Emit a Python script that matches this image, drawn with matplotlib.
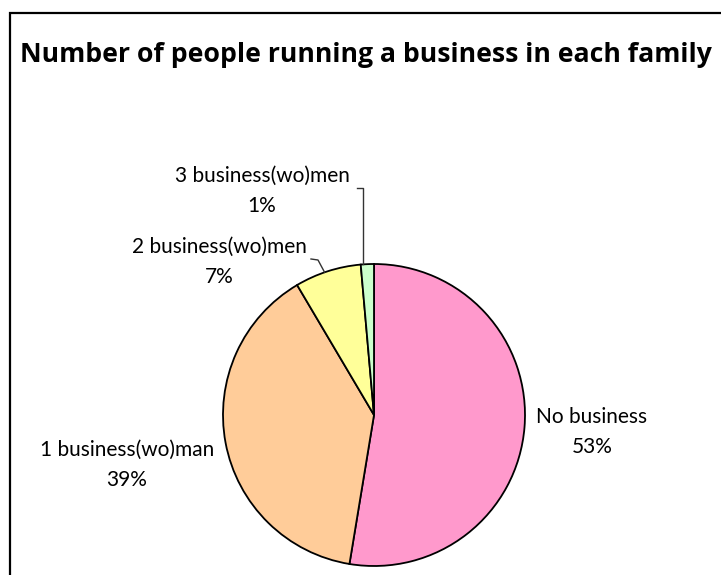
import numpy as np
import matplotlib.pyplot as plt
from matplotlib.patches import Rectangle

categories = ["No business", "1 business(wo)man", "2 business(wo)men", "3 business(wo)men"]
shares = [52.6, 38.9, 7.1, 1.4]
colors = ["#FF99CC", "#FFCC99", "#FFFF99", "#CCFFCC"]

W, H = 721, 575
fig = plt.figure(figsize=(W / 100, H / 100), dpi=100)
plt.rcParams["font.family"] = ["Lato", "DejaVu Sans"]

# pie centre and radius in pixels
cx, cy, r = 374, 415, 151
ax = fig.add_axes([(cx - r) / W, (H - cy - r) / H, 2 * r / W, 2 * r / H])

wedges, _ = ax.pie(shares, colors=colors, startangle=90, counterclock=False,
                   radius=1, wedgeprops=dict(edgecolor="black", linewidth=1.3))
ax.set_xlim(-1, 1)
ax.set_ylim(-1, 1)
ax.axis("off")

def px(x, y):
    # pixel position -> data coords of the pie axes
    return (x - cx) / r, (cy - y) / r

def edge(frac):
    # point on the rim at a given cumulative fraction (clockwise from top)
    a = np.radians(90 - frac * 360)
    return np.cos(a), np.sin(a)

total = sum(shares)
label_pos = [(592, 432), (127, 465), (219, 262), (262, 191)]
for name, val, (lx, ly) in zip(categories, shares, label_pos):
    dx, dy = px(lx, ly)
    ax.text(dx, dy, f"{name}\n{val / total * 100:.0f}%", ha="center", va="center",
            fontsize=15, linespacing=1.65, clip_on=False)

cum = np.cumsum([0] + shares) / total

# leader line for "3 business(wo)men"
ex, ey = edge(cum[3] + 0.2 * (cum[4] - cum[3]))
top = px(0, 188)[1]
left = px(357, 0)[0]
ax.plot([ex, ex, left], [ey, top, top], color="#333333", lw=1, clip_on=False)

# leader line for "2 business(wo)men"
ex, ey = edge(cum[2] + 0.45 * (cum[3] - cum[2]))
mx, my = px(318, 260)
lx2, ly2 = px(311, 259)
ax.plot([ex, mx, lx2], [ey, my, ly2], color="#333333", lw=1, clip_on=False)

fig.text(20 / W, 1 - 62 / H, "Number of people running a business in each family",
         fontsize=19.2, fontweight="bold", family=["Open Sans", "DejaVu Sans"],
         ha="left", va="baseline")

fig.patches.append(Rectangle((9.5 / W, -0.1), 1.2, 1.1 - 13 / H,
                             transform=fig.transFigure, fill=False,
                             edgecolor="black", linewidth=1.6))

fig.savefig("out.png", dpi=100)
